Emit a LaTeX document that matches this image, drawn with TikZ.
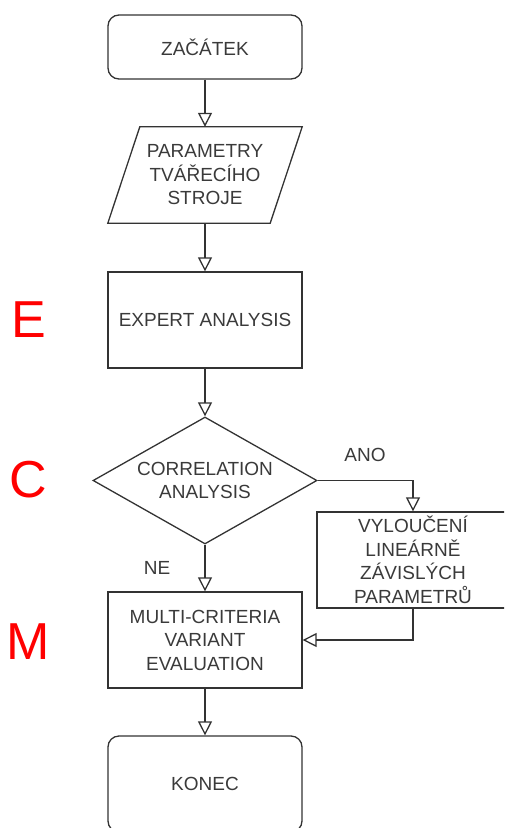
\documentclass[tikz,border=0pt]{standalone}
\usepackage{fontspec}
\setmainfont{Liberation Sans}
\usetikzlibrary{arrows.meta,calc,shapes.geometric}
\definecolor{ln}{HTML}{333333}
\definecolor{tx}{HTML}{3A3A3A}
\begin{document}
\begin{tikzpicture}[x=1pt,y=-1pt,
  txt/.style={inner sep=0pt, align=center, text=tx, font=\fontsize{19}{23.5}\selectfont},
  box/.style={txt, draw=ln, line width=1.3pt, minimum width=194pt, minimum height=96pt},
  term/.style={box, rounded corners=11pt},
  arr/.style={draw=ln, line width=1.3pt, -{Triangle[open, length=14pt, width=14pt]}},
  lbl/.style={text=red, inner sep=0pt, font=\fontsize{52}{52}\selectfont}]
\useasboundingbox (0,0) rectangle (504,828);
\clip (0,0) rectangle (504,828);
\node[term, minimum height=64pt] (start) at (205,47) {ZAČÁTEK};
\node[txt, minimum width=162pt, minimum height=96pt] (par) at (205,175) {PARAMETRY\\TVÁŘECÍHO\\STROJE};
\draw[draw=ln, line width=1.3pt] ($(par.north west)+(16,0)$) -- ($(par.north east)+(16,0)$) -- ($(par.south east)+(-16,0)$) -- ($(par.south west)+(-16,0)$) -- cycle;
\node[box] (exp) at (205,320) {EXPERT ANALYSIS};
\node[txt, diamond, draw=ln, line width=1.3pt, minimum width=224pt, minimum height=127pt, aspect=1.764] (dia) at (205,480.5) {CORRELATION\\ANALYSIS};
\node[box, minimum width=192pt] (vyl) at (413,560) {VYLOUČENÍ\\LINEÁRNĚ\\ZÁVISLÝCH\\PARAMETRŮ};
\node[box] (mcv) at (205,640) {MULTI-CRITERIA\\VARIANT\\EVALUATION};
\node[term] (end) at (205,784) {KONEC};
\node[txt] (ano) at (365,455) {ANO};
\node[txt] (ne) at (157,568) {NE};
\node[lbl] (le) at (29,320) {E};
\node[lbl] (lc) at (28,480) {C};
\node[lbl] (lm) at (28,642) {M};
\draw[arr] (start) -- (par);
\draw[arr] (par) -- (exp);
\draw[arr] (exp) -- (dia);
\draw[arr] (dia.east) -| (vyl.north);
\draw[arr] (dia) -- (mcv);
\draw[arr] (vyl.south) |- (mcv.east);
\draw[arr] (mcv) -- (end);
\end{tikzpicture}
\end{document}
